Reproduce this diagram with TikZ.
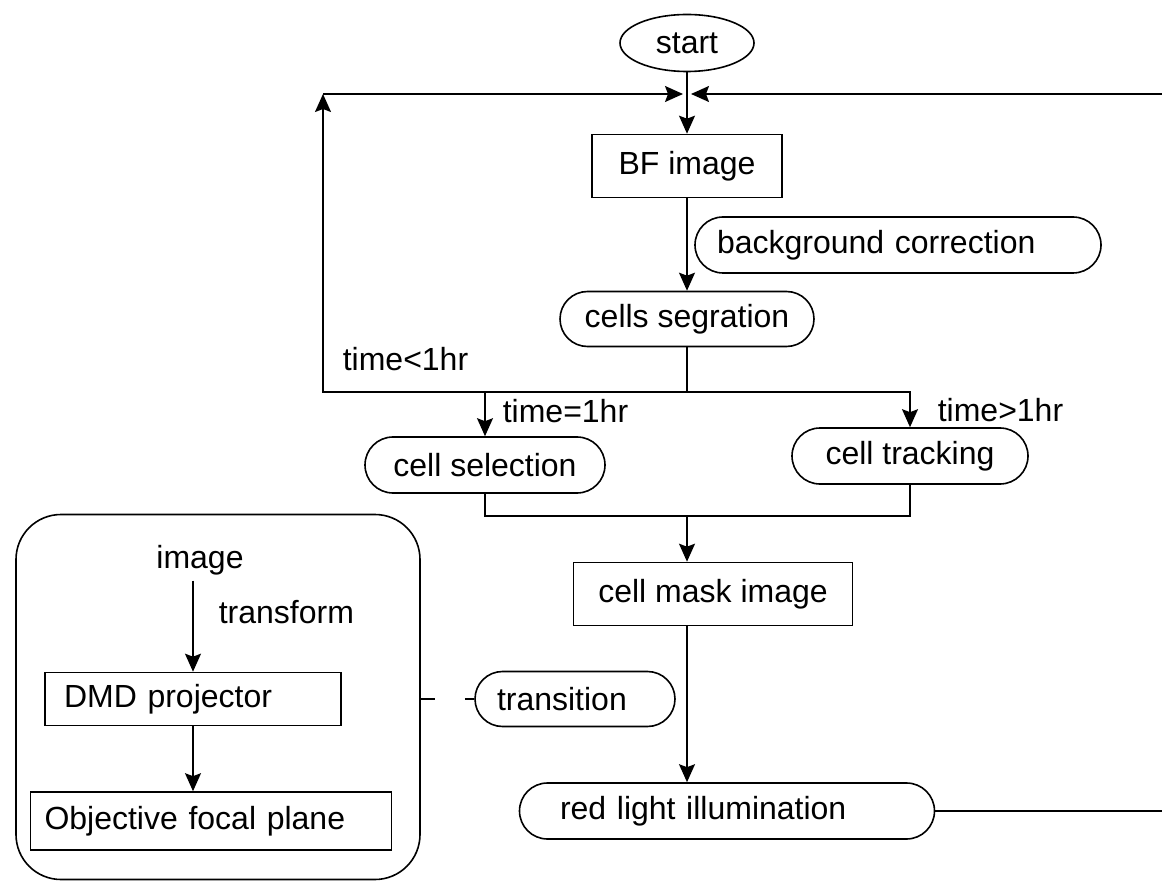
\documentclass[tikz,border=0pt]{standalone}
\usepackage{fontspec}
\setmainfont{Liberation Sans}
\usetikzlibrary{shapes.geometric,shapes.misc,arrows.meta}

\begin{document}
\begin{tikzpicture}[x=1pt, y=-1pt, line width=1.6pt,
    font=\fontsize{32}{36}\selectfont,
    every node/.style={inner sep=0pt},
    box/.style={draw, rectangle},
    pill/.style={draw, rounded rectangle},
    oval/.style={draw, ellipse},
    lbl/.style={anchor=base west},
    arr/.style={-{Stealth[length=18pt, width=16pt, inset=3pt]}}]
  \useasboundingbox (0,0) rectangle (1162,882);

  % main flow
  \node[oval, minimum width=134, minimum height=57] (start) at (687,43) {start};
  \node[box, minimum width=190, minimum height=63] (bf) at (687,166) {BF image};
  \node[pill, minimum width=406, minimum height=56, text width=362, align=left] (bgc) at (898,245) {background correction};
  \node[pill, minimum width=254, minimum height=55] (seg) at (687,319) {cells segration};
  \node[pill, minimum width=240, minimum height=56] (sel) at (485,465) {cell selection};
  \node[pill, minimum width=236, minimum height=56] (trk) at (910,456) {cell tracking};
  \node[box, minimum width=279, minimum height=63] (mask) at (713,594) {cell mask image};
  \node[pill, minimum width=200, minimum height=55, text width=156, align=left] (trans) at (575,699) {transition};
  \node[pill, minimum width=415, minimum height=56, text width=334, align=left] (red) at (727,811) {red light illumination};

  % projector panel
  \node[draw, rectangle, rounded corners=45pt, minimum width=404, minimum height=365] (panel) at (218,697) {};
  \node (img) at (200,560) {image};
  \node[box, minimum width=296, minimum height=53, inner xsep=19pt, text width=258, align=left] (dmd) at (193,699) {DMD projector};
  \node[box, minimum width=361, minimum height=58, inner xsep=14pt, text width=333, align=left] (obj) at (211,821) {Objective focal plane};

  \coordinate (merge) at (687,94);
  \coordinate (cornerL) at (323,94);
  \coordinate (cornerR) at (1162,94);
  \coordinate (split) at (687,392);
  \coordinate (join) at (687,516);

  \draw[arr] (start.south) -- (bf.north);
  \draw[arr, shorten >=4pt] (cornerL) -- (merge);
  \draw[arr, shorten >=4pt] (cornerR) -- (merge);
  \draw[arr] (bf.south) -- (seg.north);
  \draw (seg.south) -- (split);
  \draw[arr] (split) -| (cornerL);
  \draw[arr] (split) -| (sel.north);
  \draw[arr] (split) -| (trk.north);
  \draw (sel.south) |- (trk.south |- join) -- (trk.south);
  \draw[arr] (join) -- (join |- mask.north);
  \draw[arr] (mask.south -| join) -- (red.north -| join);
  \draw (red.east) -- (red.east -| cornerR);

  \draw[arr] ([yshift=-5pt]img.south -| dmd.north) -- (dmd.north);
  \draw[arr] (dmd.south) -- (dmd.south |- obj.north);
  \draw[dash pattern=on 14pt off 30pt] (panel.east |- trans.west) -- (trans.west);

  \node[lbl] at (342,371) {time<1hr};
  \node[lbl] at (502,422) {time=1hr};
  \node[lbl] at (937,421) {time>1hr};
  \node[lbl] at (218,623) {transform};
\end{tikzpicture}
\end{document}
